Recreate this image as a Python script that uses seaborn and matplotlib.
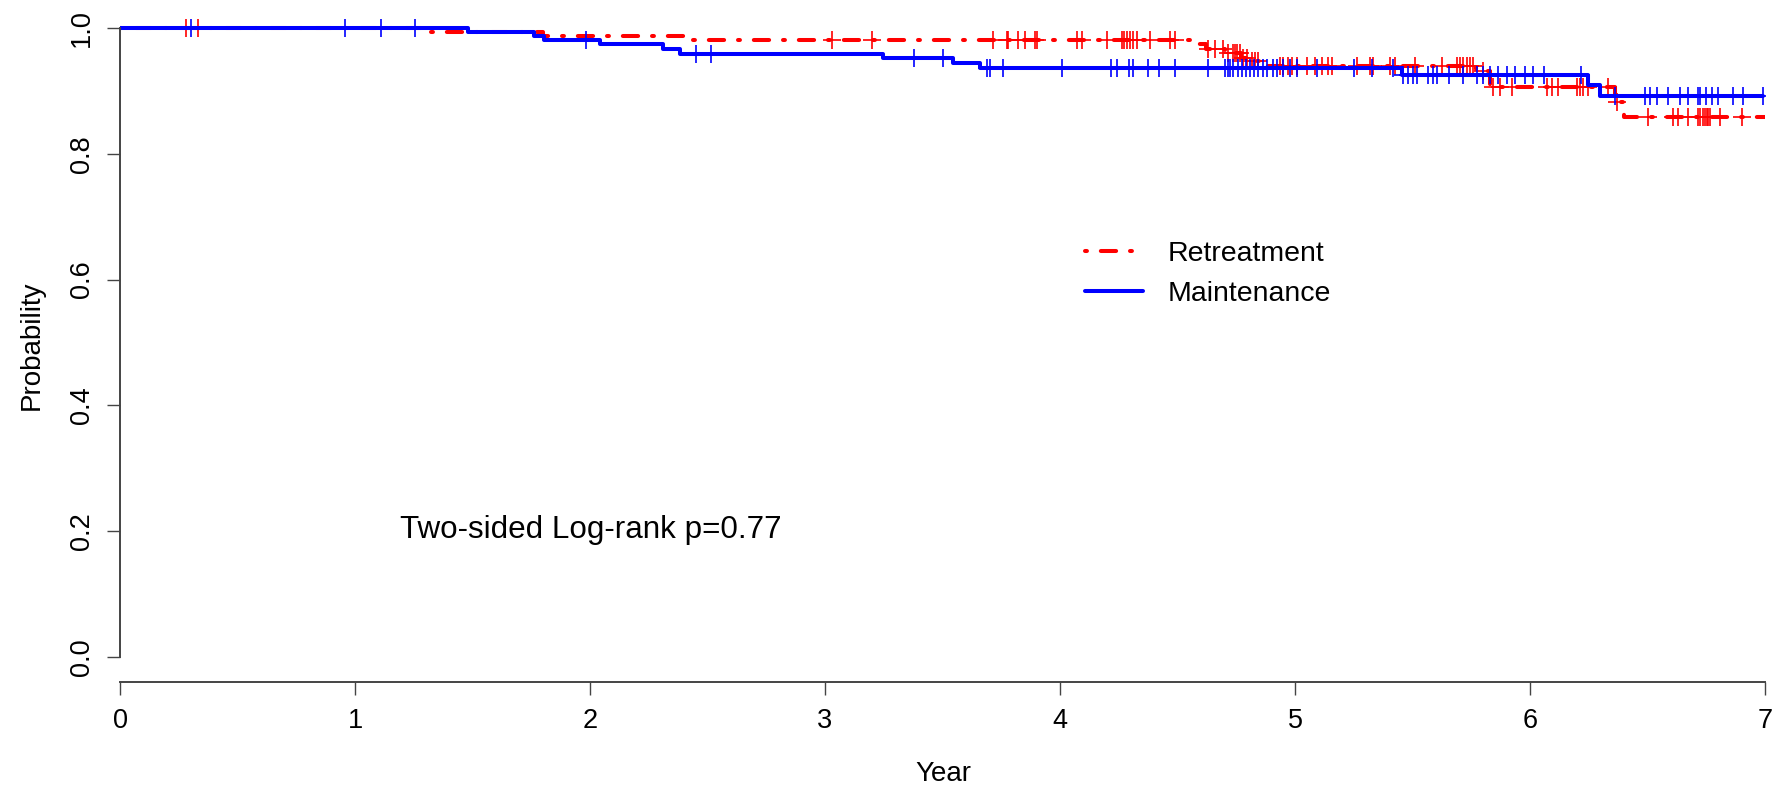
import numpy as np
import pandas as pd
import matplotlib
matplotlib.use("Agg")
import matplotlib.pyplot as plt
import seaborn as sns

# ---------------- data ----------------
groups = ["Retreatment", "Maintenance"]

# Retreatment (red, dot-dash) step curve
ret_times = [0.0, 1.32, 1.80, 2.417, 4.567, 4.62, 4.70, 4.77, 4.81, 4.85, 5.77, 5.83, 6.36, 6.40, 7.0]
ret_surv = [1.0, 0.994, 0.988, 0.981, 0.974, 0.967, 0.960, 0.953, 0.947, 0.940, 0.932, 0.907, 0.883, 0.858, 0.858]
ret_censor = [0.28, 0.33, 3.028, 3.198, 3.716, 3.773, 3.780, 3.823, 3.851, 3.894, 3.901, 4.071, 4.092,
              4.199, 4.263, 4.272, 4.284, 4.298, 4.312, 4.326, 4.383, 4.468, 4.489, 4.631, 4.660, 4.695,
              4.716, 4.737, 4.745, 4.752, 4.766, 4.780, 4.794, 4.816, 4.830, 4.844, 4.936, 4.950, 4.972,
              4.986, 5.007, 5.050, 5.085, 5.113, 5.142, 5.156, 5.262, 5.319, 5.333, 5.404, 5.426, 5.511,
              5.624, 5.688, 5.702, 5.716, 5.730, 5.745, 5.759, 5.80, 5.844, 5.872, 5.922, 6.071, 6.092,
              6.120, 6.199, 6.213, 6.227, 6.248, 6.33, 6.37, 6.503, 6.610, 6.631, 6.674, 6.716, 6.723,
              6.738, 6.745, 6.752, 6.759, 6.766, 6.809, 6.901]

# Maintenance (blue, solid) step curve
mnt_times = [0.0, 1.48, 1.763, 1.806, 2.043, 2.309, 2.383, 3.245, 3.543, 3.66, 5.454, 6.248, 6.298, 6.993]
mnt_surv = [1.0, 0.994, 0.988, 0.981, 0.974, 0.9665, 0.959, 0.952, 0.944, 0.937, 0.925, 0.909, 0.8916, 0.8916]
mnt_censor = [0.30, 0.957, 1.111, 1.255, 1.983, 2.451, 2.514, 3.38, 3.503, 3.691, 3.702, 3.756, 4.007,
              4.217, 4.241, 4.295, 4.312, 4.373, 4.423, 4.491, 4.631, 4.702, 4.714, 4.723, 4.737, 4.756,
              4.773, 4.791, 4.809, 4.827, 4.844, 4.863, 4.879, 4.908, 4.922, 4.950, 4.979, 5.007, 5.092,
              5.253, 5.326, 5.416, 5.461, 5.479, 5.501, 5.520, 5.567, 5.589, 5.606, 5.657, 5.716, 5.773,
              5.801, 5.830, 5.865, 5.901, 5.936, 5.979, 6.014, 6.060, 6.217, 6.362, 6.489, 6.511, 6.539,
              6.589, 6.638, 6.674, 6.716, 6.723, 6.749, 6.773, 6.801, 6.865, 6.907, 6.993]

x_ticks = [0, 1, 2, 3, 4, 5, 6, 7]
y_ticks = [0.0, 0.2, 0.4, 0.6, 0.8, 1.0]
y_ticklabels = ["0.0", "0.2", "0.4", "0.6", "0.8", "1.0"]
annotation = "Two-sided Log-rank p=0.77"

# ---------------- style ----------------
sns.set_style("white")
plt.rcParams["font.family"] = ["Liberation Sans", "DejaVu Sans"]
plt.rcParams["lines.scale_dashes"] = False
plt.rcParams["text.color"] = "black"

RED = "#FF0000"
BLUE = "#0000FF"
AXC = "#444444"

fig = plt.figure(figsize=(17.76, 7.87), dpi=100)
ax = fig.add_axes([120 / 1776, 1 - 682 / 787, 1645 / 1776, 679.1 / 787])


def surv_at(times, surv, t):
    idx = np.searchsorted(np.asarray(times), np.asarray(t), side="right") - 1
    return np.asarray(surv)[idx]


curves = {
    "Retreatment": (ret_times, ret_surv, ret_censor, RED),
    "Maintenance": (mnt_times, mnt_surv, mnt_censor, BLUE),
}

handles = []
for name in groups:
    times, surv, cens, col = curves[name]
    df = pd.DataFrame({"time": times, "surv": surv})
    sns.lineplot(data=df, x="time", y="surv", drawstyle="steps-post", estimator=None, sort=False,
                 color=col, linewidth=2.9, ax=ax, legend=False)
    line = ax.lines[-1]
    line.set_solid_capstyle("round")
    line.set_dash_capstyle("round")
    if name == "Retreatment":
        line.set_linestyle((0, (1.4, 10.0, 11.0, 10.0)))
    handles.append(line)
    cdf = pd.DataFrame({"time": cens, "surv": surv_at(times, surv, cens)})
    sns.scatterplot(data=cdf, x="time", y="surv", marker="+", s=150, color=col,
                    linewidth=1.2, ax=ax, legend=False, zorder=line.get_zorder())

# ---------------- axes ----------------
ax.set_xlim(0, 7)
ax.set_ylim(-0.04, 1.04)
ax.set_xticks(x_ticks)
ax.set_xticklabels([str(v) for v in x_ticks])
ax.set_yticks(y_ticks)
ax.set_yticklabels(y_ticklabels, rotation=90, va="center", ha="center")
ax.set_xlabel("")
ax.set_ylabel("")

for s in ["top", "right"]:
    ax.spines[s].set_visible(False)
ax.spines["left"].set_bounds(0, 1)
ax.spines["bottom"].set_bounds(0, 7)
for s in ["left", "bottom"]:
    ax.spines[s].set_color(AXC)
    ax.spines[s].set_linewidth(1.4)

ax.tick_params(axis="x", length=9, width=1.0, color=AXC, pad=10, labelsize=19.5, labelcolor="black")
ax.tick_params(axis="y", length=9.4, width=1.0, color=AXC, pad=18, labelsize=19.5, labelcolor="black")
ax.tick_params(axis="both", direction="out", bottom=True, left=True)
ax.grid(False)

fig.text(943 / 1776, 1 - 774 / 787, "Year", ha="center", va="center", fontsize=20, color="black")
fig.text(32 / 1776, 1 - 345 / 787, "Probability", ha="center", va="center", rotation=90,
         fontsize=20, color="black")

ax.text(1.19, 0.201, annotation, ha="left", va="center", fontsize=22.6, color="black")

leg = ax.legend(handles=handles, labels=groups, loc="center left",
                bbox_to_anchor=(0.5866, 0.601), frameon=False, fontsize=20.5,
                handlelength=2.05, handletextpad=0.87, labelspacing=0.48,
                borderpad=0, borderaxespad=0)
for t in leg.get_texts():
    t.set_color("black")

fig.savefig("out.png", dpi=100, facecolor="white")
